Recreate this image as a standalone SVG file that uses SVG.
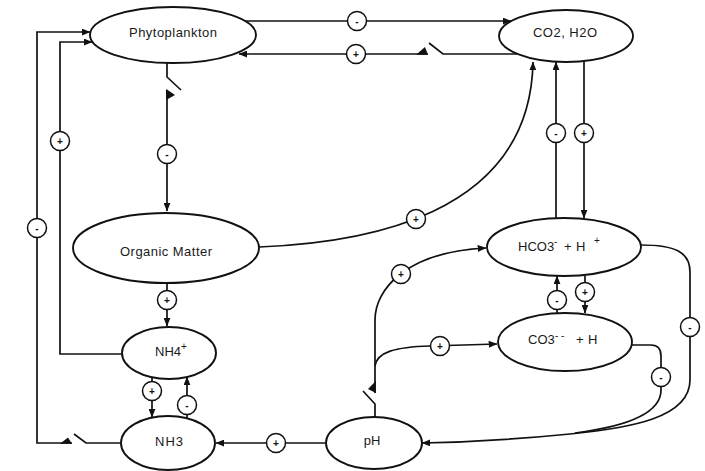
<svg xmlns="http://www.w3.org/2000/svg" width="705" height="471" viewBox="0 0 705 471">
<defs>
<marker id="arr" viewBox="0 0 10 8" refX="9.5" refY="4" markerWidth="9" markerHeight="7" markerUnits="userSpaceOnUse" orient="auto"><path d="M0,0 L10,4 L0,8 z" fill="#111"/></marker>
</defs>
<style>
.n ellipse{fill:#fff;stroke:#111;stroke-width:1.9}
.lbl{font-family:"Liberation Sans",Arial,sans-serif;font-size:13px;fill:#1a1a1a}
.c path{fill:none;stroke:#111;stroke-width:1.7}
.c .a{marker-end:url(#arr)}
.tri{fill:#111;stroke:none}
.s circle{fill:#fff;stroke:#111;stroke-width:1.5}
.s text{font-family:"Liberation Sans",Arial,sans-serif;font-size:10px;font-weight:bold;text-anchor:middle;fill:#111}
</style>
<rect width="705" height="471" fill="#fff"/>

<g id="phytoplankton" class="n"><ellipse cx="173" cy="35" rx="83" ry="28"/><text class="lbl" x="173" y="37" text-anchor="middle" textLength="88">Phytoplankton</text></g>
<g id="co2h2o" class="n"><ellipse cx="566" cy="36" rx="67" ry="26"/><text class="lbl" x="565" y="37" text-anchor="middle" textLength="64">CO2, H2O</text></g>
<g id="organic" class="n"><ellipse cx="166" cy="248" rx="93" ry="35"/><text class="lbl" x="166" y="256" text-anchor="middle" textLength="92">Organic Matter</text></g>
<g id="nh4" class="n"><ellipse cx="169" cy="353" rx="47" ry="26"/><text class="lbl" x="155" y="356">NH4<tspan font-size="10" dy="-6">+</tspan></text></g>
<g id="nh3" class="n"><ellipse cx="168" cy="443" rx="47" ry="27"/><text class="lbl" x="169" y="446" text-anchor="middle" textLength="28">NH3</text></g>
<g id="ph" class="n"><ellipse cx="374" cy="443" rx="48" ry="26"/><text class="lbl" x="372" y="445" text-anchor="middle">pH</text></g>
<g id="hco3" class="n"><ellipse cx="564" cy="247" rx="77" ry="29"/><text class="lbl" x="518" y="251" font-size="12">HCO3<tspan x="554" y="245" font-size="10">-</tspan><tspan x="564" y="251">+</tspan><tspan x="576" y="251">H</tspan><tspan x="594" y="244" font-size="10">+</tspan></text></g>
<g id="co3" class="n"><ellipse cx="565" cy="342" rx="67" ry="29"/><text class="lbl" x="528" y="344" font-size="12">CO3<tspan x="555" y="339" font-size="10">- -</tspan><tspan x="576" y="344">+</tspan><tspan x="588" y="344">H</tspan></text></g>

<g id="connectors" class="c">
<path class="a" d="M245,21 L511,21"/>
<path d="M517,54 L443,54 L429,43"/>
<polygon class="tri" points="416,54.8 428,54.8 425,47"/>
<path class="a" d="M428,54 L239,54"/>
<path d="M167,63 L167,77 L181,90"/>
<polygon class="tri" points="166.2,89 175,95 166.2,100"/>
<path class="a" d="M167,90 L167,211"/>
<path class="a" d="M259,247 C360,243 530,218 533,62"/>
<path class="a" d="M556,218 L556,62"/>
<path class="a" d="M584,61 L584,218"/>
<path class="a" d="M557,313 L557,276"/>
<path class="a" d="M585,276 L585,313"/>
<path d="M375,417 L375,404 L363,391"/>
<polygon class="tri" points="375.8,393 375.8,381 368,389"/>
<path class="a" d="M375,393 L375,320 C375,290 405,252 486,248"/>
<path class="a" d="M375,366 C377,352 395,347 430,346 L497,344"/>
<path class="a" d="M641,245 C675,245 690,252 690,272 L690,380 C690,418 630,428 570,434 C520,439 470,442 422,443"/>
<path d="M631,345 L651,345 C658,345 661,349 661,356 L661,390 C661,412 630,426 575,433"/>
<path class="a" d="M326,443 L216,443"/>
<path d="M121,443 L86,443 L74,434"/>
<polygon class="tri" points="60,443.8 72,443.8 68,437.5"/>
<path class="a" d="M72,443 L37,443 L37,32 L90,32"/>
<path class="a" d="M122,354 L60,354 L60,42 L92,42"/>
<path class="a" d="M167,283 L167,326"/>
<path class="a" d="M152,378 L152,417"/>
<path class="a" d="M187,418 L187,377"/>
</g>

<g id="signs" class="s">
<circle cx="357" cy="21" r="9.5"/><text x="357" y="24.5">-</text>
<circle cx="356" cy="54" r="9.5"/><text x="356" y="57.5">+</text>
<circle cx="167" cy="154" r="9.5"/><text x="167" y="157.5">-</text>
<circle cx="416" cy="219" r="9.5"/><text x="416" y="222.5">+</text>
<circle cx="556" cy="133" r="9.5"/><text x="556" y="136.5">-</text>
<circle cx="584" cy="133" r="9.5"/><text x="584" y="136.5">+</text>
<circle cx="557" cy="300" r="9.5"/><text x="557" y="303.5">-</text>
<circle cx="585" cy="292" r="9.5"/><text x="585" y="295.5">+</text>
<circle cx="401" cy="274" r="9.5"/><text x="401" y="277.5">+</text>
<circle cx="440" cy="346" r="9.5"/><text x="440" y="349.5">+</text>
<circle cx="690" cy="327" r="9.5"/><text x="690" y="330.5">-</text>
<circle cx="661" cy="377" r="9.5"/><text x="661" y="380.5">-</text>
<circle cx="276" cy="443" r="9.5"/><text x="276" y="446.5">+</text>
<circle cx="37" cy="228" r="9.5"/><text x="37" y="231.5">-</text>
<circle cx="60" cy="141" r="9.5"/><text x="60" y="144.5">+</text>
<circle cx="167" cy="300" r="9.5"/><text x="167" y="303.5">+</text>
<circle cx="152" cy="391" r="9.5"/><text x="152" y="394.5">+</text>
<circle cx="187" cy="405" r="9.5"/><text x="187" y="408.5">-</text>
</g>
</svg>
